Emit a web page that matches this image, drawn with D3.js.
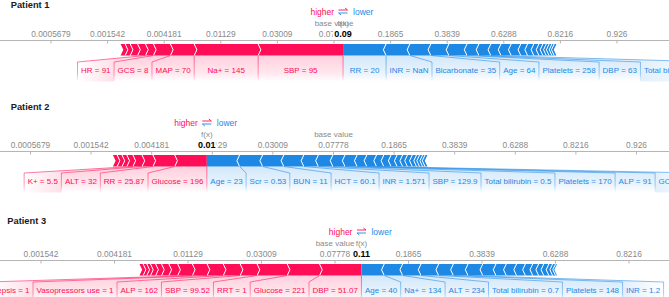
<!DOCTYPE html>
<html>
<head>
<meta charset="utf-8">
<script src="https://cdn.jsdelivr.net/npm/d3@7"></script>
<style>
  body { margin: 0; background: #fff; }
  svg { display: block; font-family: "Liberation Sans", Arial, sans-serif; }
</style>
</head>
<body>
<div id="wrapper"></div>
<script>
// 1. Data (effects are in log-odds)
const baseValue = 0.07778
const tickLabels = ["0.0005679", "0.001542", "0.004181", "0.01129", "0.03009", "0.07778",
  "0.1865", "0.3839", "0.6288", "0.8216", "0.926"]
const patientTitles = ["Patient 1", "Patient 2", "Patient 3"]

// Patient 1
const p1PosNames = ["SBP", "Na+", "MAP", "GCS", "HR", null, null, null, null]
const p1PosValues = ["95", "145", "70", "8", "91", null, null, null, null]
const p1PosEffects = [1.50, 1.13, 0.42, 0.30, 0.14, 0.14, 0.13, 0.09, 0.08]
const p1NegNames = ["RR", "INR", "Bicarbonate", "Age", "Platelets", "DBP", "Total bilirubin",
  null, null, null, null, null, null, null, null, null, null, null, null]
const p1NegValues = ["20", "NaN", "35", "64", "258", "63", "0.4"]
const p1NegEffects = [0.76, 0.42, 0.37, 0.32, 0.32, 0.21, 0.21,
  0.18, 0.18, 0.17, 0.12, 0.11, 0.09, 0.07, 0.06, 0.05, 0.05, 0.04, 0.04]

// Patient 2
const p2PosNames = ["Glucose", "RR", "ALT", "K+", null, null, null, null]
const p2PosValues = ["196", "25.87", "32", "5.5"]
const p2PosEffects = [0.53, 0.36, 0.18, 0.15, 0.10, 0.08, 0.08, 0.07]
const p2NegNames = ["Age", "Scr", "BUN", "HCT", "INR", "SBP", "Total bilirubin", "Platelets", "ALP", "GCS",
  null, null, null, null, null, null, null, null, null, null, null]
const p2NegValues = ["23", "0.53", "11", "60.1", "1.571", "129.9", "0.5", "170", "91", "15"]
const p2NegEffects = [0.54, 0.38, 0.35, 0.33, 0.24, 0.24, 0.20, 0.20, 0.16, 0.16,
  0.12, 0.12, 0.10, 0.09, 0.08, 0.08, 0.07, 0.05, 0.05, 0.04, 0.04]

// Patient 3
const p3PosNames = ["DBP", "Glucose", "RRT", "SBP", "ALP", "Vasopressors use", "Sepsis",
  null, null, null, null, null, null, null, null]
const p3PosValues = ["51.07", "221", "1", "99.52", "162", "1", "1"]
const p3PosEffects = [0.57, 0.44, 0.41, 0.23, 0.23, 0.22, 0.20,
  0.20, 0.12, 0.10, 0.08, 0.07, 0.05, 0.05, 0.05]
const p3NegNames = ["Age", "Na+", "ALT", "Total bilirubin", "Platelets", "INR",
  null, null, null, null, null, null, null, null, null, null, null, null]
const p3NegValues = ["40", "134", "234", "0.7", "148", "1.2"]
const p3NegEffects = [0.31, 0.25, 0.25, 0.24, 0.20, 0.20,
  0.20, 0.18, 0.14, 0.14, 0.12, 0.10, 0.08, 0.07, 0.07, 0.05, 0.04, 0.02]

const patients = [
  { posNames: p1PosNames, posValues: p1PosValues, posEffects: p1PosEffects,
    negNames: p1NegNames, negValues: p1NegValues, negEffects: p1NegEffects },
  { posNames: p2PosNames, posValues: p2PosValues, posEffects: p2PosEffects,
    negNames: p2NegNames, negValues: p2NegValues, negEffects: p2NegEffects },
  { posNames: p3PosNames, posValues: p3PosValues, posEffects: p3PosEffects,
    negNames: p3NegNames, negValues: p3NegValues, negEffects: p3NegEffects },
]

// 2. Dimensions (each panel has its own scale width)
const width = 669, height = 297
const layouts = [
  { left: 51, right: 617, axisY: 40.5, titleX: 10.7, titleY: 7.5 },
  { left: 30.5, right: 636.5, axisY: 151.5, titleX: 10.7, titleY: 110 },
  { left: -32.5, right: 702.5, axisY: 260.5, titleX: 7.3, titleY: 223.5 },
]
const red = "#ff0d57", blue = "#1e88e5"

const logit = p => Math.log(p / (1 - p))
const sigmoid = v => 1 / (1 + Math.exp(-v))

// 3. Canvas
const svg = d3.select("#wrapper").append("svg")
  .attr("width", width)
  .attr("height", height)
const defs = svg.append("defs")

function gradient(id, color, x1, y1, x2, y2, stops) {
  const gr = defs.append("linearGradient").attr("id", id)
    .attr("gradientUnits", "userSpaceOnUse")
    .attr("x1", x1).attr("y1", y1).attr("x2", x2).attr("y2", y2)
  stops.forEach(([o, op]) => gr.append("stop")
    .attr("offset", o).attr("stop-color", color).attr("stop-opacity", op))
}

const poly = pts => "M" + pts.map(p => p.join(",")).join("L") + "Z"
const line = pts => "M" + pts.map(p => p.join(",")).join("L")

function drawPatient(i) {
  const p = patients[i], lay = layouts[i]
  const base = logit(baseValue)
  const xScale = d3.scaleLinear().domain([base - 5, base + 5]).range([lay.left, lay.right])
  const A = lay.axisY
  const top = A + 3.5, bot = A + 15, mid = (top + bot) / 2
  const linkY = A + 21.5, labBot = A + 41, textY = A + 32.5
  const notch = 2.7, pad = 7
  const g = svg.append("g")

  const fxLogit = base + d3.sum(p.posEffects) - d3.sum(p.negEffects)
  const fxX = xScale(fxLogit)

  let acc = fxLogit
  const pos = p.posEffects.map((e, j) => {
    const s = { b: xScale(acc), a: xScale(acc - e),
      label: p.posNames[j] ? `${p.posNames[j]} = ${p.posValues[j]}` : null }
    acc -= e
    return s
  })
  acc = fxLogit
  const neg = p.negEffects.map((e, j) => {
    const s = { a: xScale(acc), b: xScale(acc + e),
      label: p.negNames[j] ? `${p.negNames[j]} = ${p.negValues[j]}` : null }
    acc += e
    return s
  })

  // label boxes, pushed away from f(x)
  const probe = svg.append("text").style("font-size", "8px")
  const measure = t => { probe.text(t); return probe.node().getComputedTextLength() }
  const posLab = pos.filter(s => s.label)
  const negLab = neg.filter(s => s.label)
  let edge = fxX
  posLab.forEach(s => { s.R = edge; s.L = Math.min(s.a, edge - measure(s.label) - pad); edge = s.L })
  edge = fxX
  negLab.forEach(s => { s.L = edge; s.R = Math.max(s.b, edge + measure(s.label) + pad); edge = s.R })
  probe.remove()

  gradient(`bgp${i}`, red, 0, bot, 0, labBot, [[0, 0.2], [0.7, 0.09], [1, 0]])
  gradient(`bgn${i}`, blue, 0, bot, 0, labBot, [[0, 0.2], [0.7, 0.09], [1, 0]])
  gradient(`lkp${i}`, red, 0, bot, 0, labBot, [[0, 0.6], [0.7, 0.4], [1, 0]])
  gradient(`lkn${i}`, blue, 0, bot, 0, labBot, [[0, 0.6], [0.7, 0.4], [1, 0]])
  const lastP = posLab[posLab.length - 1], lastN = negLab[negLab.length - 1]
  gradient(`fp${i}`, red, lastP.L, 0, lastP.R, 0, [[0, 0], [1, 0.13]])
  gradient(`fn${i}`, blue, lastN.L, 0, lastN.R, 0, [[0, 0.13], [1, 0]])

  // label backings
  posLab.forEach(s => g.append("path")
    .attr("d", poly([[s.a, bot], [s.b, bot], [s.R, linkY], [s.R, labBot], [s.L, labBot], [s.L, linkY]]))
    .attr("fill", s === lastP ? `url(#fp${i})` : `url(#bgp${i})`))
  negLab.forEach(s => g.append("path")
    .attr("d", poly([[s.a, bot], [s.b, bot], [s.R, linkY], [s.R, labBot], [s.L, labBot], [s.L, linkY]]))
    .attr("fill", s === lastN ? `url(#fn${i})` : `url(#bgn${i})`))

  // axis
  g.append("line")
    .attr("x1", 0).attr("x2", width).attr("y1", A).attr("y2", A)
    .attr("stroke", "#b5b5b5").attr("stroke-width", 1)
  tickLabels.forEach(t => {
    const tx = xScale(logit(+t))
    g.append("line").attr("x1", tx).attr("x2", tx).attr("y1", A).attr("y2", A + 3)
      .attr("stroke", "#b5b5b5")
    g.append("text").attr("x", tx).attr("y", A - 4)
      .attr("text-anchor", "middle").attr("fill", "#8a8a8a")
      .style("font-size", "8.4px").text(t)
  })

  // bar blocks
  pos.forEach((s, j) => g.append("path")
    .attr("d", poly([[s.a, top], [s.b, top], [s.b + (j === 0 ? 0 : notch), mid], [s.b, bot], [s.a, bot], [s.a + notch, mid]]))
    .attr("fill", red))
  neg.forEach((s, j) => g.append("path")
    .attr("d", poly([[s.a, top], [s.b, top], [s.b - notch, mid], [s.b, bot], [s.a, bot], [s.a - (j === 0 ? 0 : notch), mid]]))
    .attr("fill", blue))
  pos.slice(0, -1).forEach(s => g.append("path")
    .attr("d", line([[s.a, top], [s.a + notch, mid], [s.a, bot]]))
    .attr("fill", "none").attr("stroke", "#fff").attr("stroke-width", 1))
  neg.slice(0, -1).forEach(s => g.append("path")
    .attr("d", line([[s.b, top], [s.b - notch, mid], [s.b, bot]]))
    .attr("fill", "none").attr("stroke", "#fff").attr("stroke-width", 1))

  // label links
  posLab.forEach(s => g.append("path")
    .attr("d", line([[s.a, bot], [s.L, linkY], [s.L, labBot]]))
    .attr("fill", "none").attr("stroke", `url(#lkp${i})`).attr("stroke-width", 1))
  negLab.forEach(s => g.append("path")
    .attr("d", line([[s.b, bot], [s.R, linkY], [s.R, labBot]]))
    .attr("fill", "none").attr("stroke", `url(#lkn${i})`).attr("stroke-width", 1))
  g.append("path").attr("d", line([[fxX, bot], [fxX, labBot]]))
    .attr("fill", "none").attr("stroke", `url(#lkp${i})`).attr("stroke-width", 1)

  // label texts
  posLab.forEach(s => g.append("text").attr("x", (s.L + s.R) / 2).attr("y", textY)
    .attr("text-anchor", "middle").attr("fill", red).style("font-size", "8px").text(s.label))
  negLab.forEach(s => g.append("text").attr("x", (s.L + s.R) / 2).attr("y", textY)
    .attr("text-anchor", "middle").attr("fill", blue).style("font-size", "8px").text(s.label))

  // base value / f(x) titles
  g.append("text").attr("x", xScale(base)).attr("y", A - 15)
    .attr("text-anchor", "middle").attr("fill", "#8a8a8a").style("font-size", "8px").text("base value")
  g.append("text").attr("x", fxX).attr("y", A - 15)
    .attr("text-anchor", "middle").attr("fill", "#8a8a8a").style("font-size", "8px").text("f(x)")
  g.append("text").attr("x", fxX).attr("y", A - 4)
    .attr("text-anchor", "middle").attr("fill", "#000")
    .attr("stroke", "#fff").attr("stroke-width", 4).style("paint-order", "stroke")
    .style("font-size", "9px").style("font-weight", "bold")
    .text(d3.format(".2f")(sigmoid(fxLogit)))

  // higher <-> lower
  g.append("text").attr("x", fxX - 9).attr("y", A - 26)
    .attr("text-anchor", "end").attr("fill", red).style("font-size", "8.5px").text("higher")
  g.append("text").attr("x", fxX + 10).attr("y", A - 26)
    .attr("fill", blue).style("font-size", "8.5px").text("lower")
  g.append("path").attr("d", `M${fxX - 4.5},${A - 30.5}H${fxX + 4.5}l-2.5,-2`)
    .attr("fill", "none").attr("stroke", red).attr("stroke-width", 0.9)
  g.append("path").attr("d", `M${fxX + 4.5},${A - 27.5}H${fxX - 4.5}l2.5,2`)
    .attr("fill", "none").attr("stroke", blue).attr("stroke-width", 0.9)

  // title
  g.append("text").attr("x", lay.titleX).attr("y", lay.titleY)
    .attr("fill", "#1a1a1a").style("font-size", "9.3px").style("font-weight", "bold")
    .text(patientTitles[i])
}

patients.forEach((p, i) => drawPatient(i))
</script>
</body>
</html>
